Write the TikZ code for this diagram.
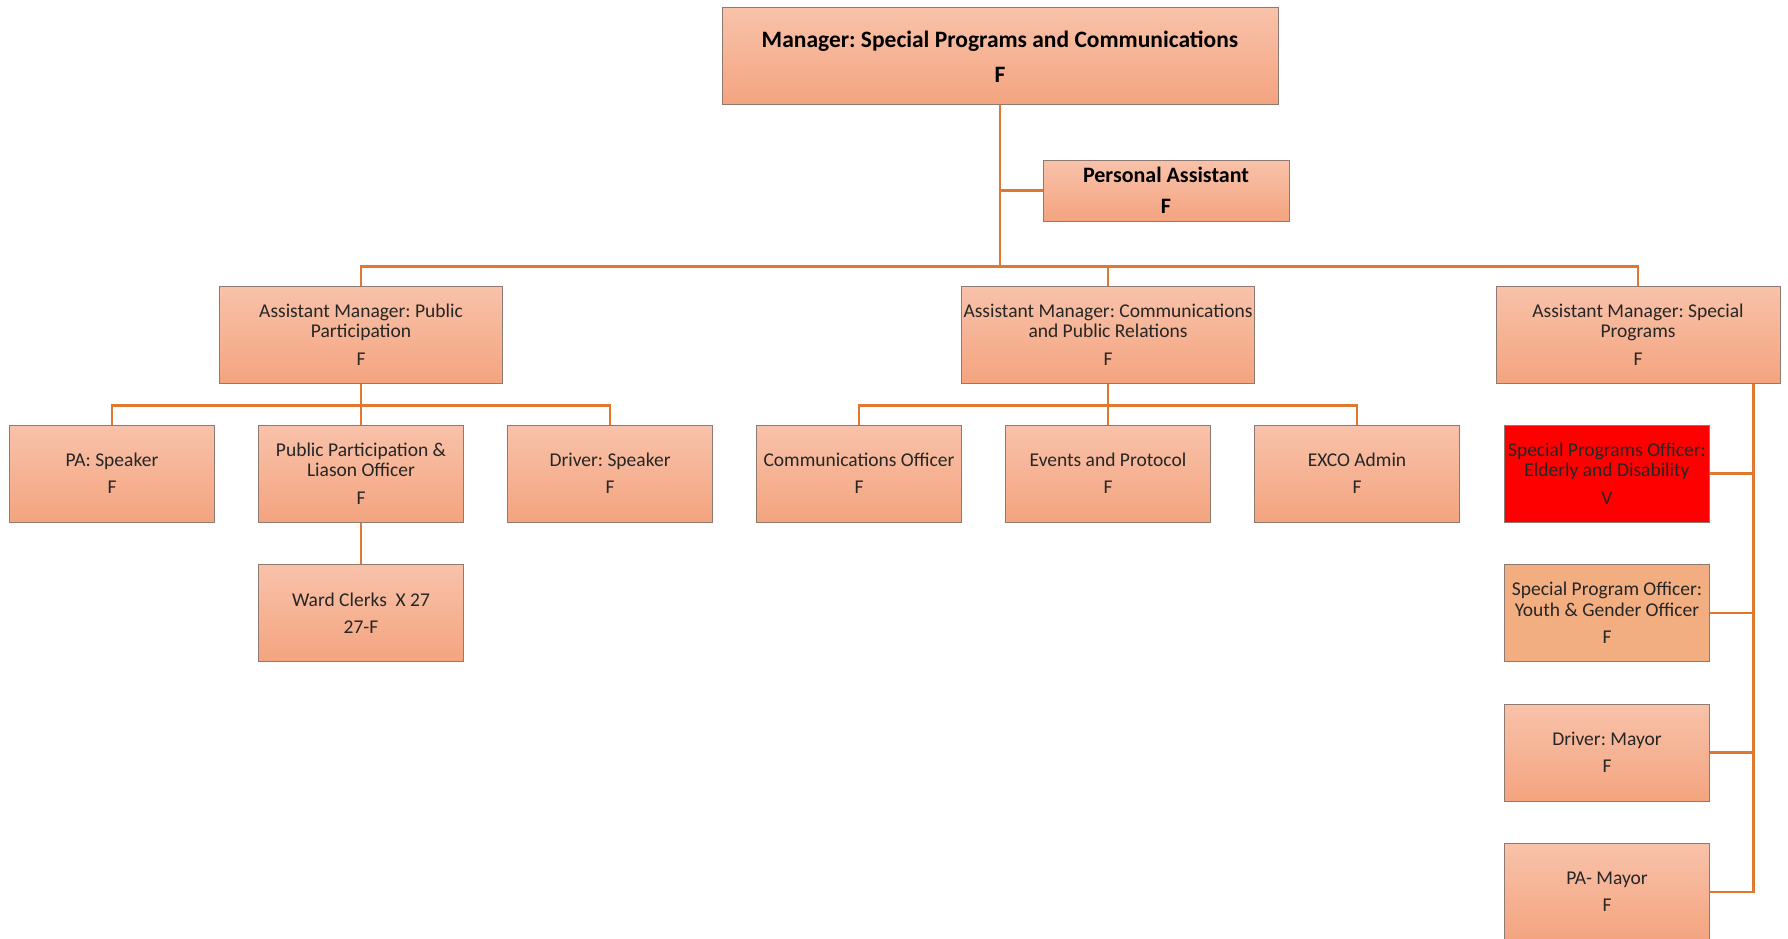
\documentclass[tikz,border=0pt]{standalone}
\usepackage{fontspec}
\setmainfont{Carlito}
\usetikzlibrary{positioning}
\frenchspacing

\definecolor{boxtop}{HTML}{F8C2AA}
\definecolor{boxbot}{HTML}{F4A47F}
\definecolor{boxline}{HTML}{8E7A70}
\definecolor{linkcol}{HTML}{E0782F}
\definecolor{youthfill}{HTML}{F2AE80}
\definecolor{textcol}{HTML}{262626}

\begin{document}
\begin{tikzpicture}[x=1pt,y=-1pt,
  box/.style = {draw=boxline, line width=1pt, align=center, minimum height=97pt, minimum width=205pt, inner sep=2pt, text=textcol, font=\fontsize{19.5}{20.5}\selectfont},
  post/.style = {box, top color=boxtop, bottom color=boxbot},
  head/.style = {post, font=\fontsize{22}{24}\selectfont\bfseries, text=black},
  link/.style = {draw=linkcol, line width=2.6pt},
  node distance={41.5pt and 43pt}]
\useasboundingbox (0,0) rectangle (1788,939);

% top of the chart
\node[head, minimum width=556pt, font=\fontsize{23.5}{25}\selectfont\bfseries] (mgr) at (1000,56.5) {Manager: Special Programs and Communications\\[10pt] F};
\node[head, minimum width=246pt, minimum height=61pt] (pa) at (1166,190.5) {Personal Assistant\\[7pt] F};

% assistant managers
\node[post, minimum width=283pt] (ampp) at (361,334.5) {Assistant Manager: Public\\Participation\\[7pt] F};
\node[post, minimum width=287pt] (amcom) at (1108,334.5) {Assistant Manager: Communications\\and Public Relations\\[7pt] F};
\node[post, minimum width=284pt] (amsp) at (1638,334.5) {Assistant Manager: Special\\Programs\\[7pt] F};

% third row
\node[post] (paspk) at (112,473.5) {PA: Speaker\\[6.5pt] F};
\node[post, right=of paspk] (ppl) {Public Participation \&\\Liason Officer\\[7pt] F};
\node[post, right=of ppl] (drvspk) {Driver: Speaker\\[6.5pt] F};
\node[post, right=of drvspk] (comoff) {Communications Officer\\[6.5pt] F};
\node[post, right=of comoff] (events) {Events and Protocol\\[6.5pt] F};
\node[post, right=of events] (exco) {EXCO Admin\\[6.5pt] F};
\node[post, below=of ppl] (ward) {Ward Clerks~~X 27\\[6.5pt] 27-F};

% special programs column
\node[box, fill=red] (elder) at (1607,473.5) {Special Programs Officer:\\Elderly and Disability\\[7pt] V};
\node[box, fill=youthfill, below=of elder] (youth) {Special Program Officer:\\Youth \& Gender Officer\\[7pt] F};
\node[post, below=of youth] (drvmay) {Driver: Mayor\\[6.5pt] F};
\node[post, below=of drvmay] (pamay) {PA- Mayor\\[6.5pt] F};

% connectors
\coordinate (bus1) at ([yshift=-161pt]mgr.south);
\draw[link] (mgr.south) -- (bus1);
\draw[link] (mgr.south) |- (pa.west);
\draw[link] (ampp.north) |- (bus1) -| (amsp.north);
\draw[link] (bus1) -| (amcom.north);

\coordinate (bus2) at ([yshift=-22pt]ampp.south);
\draw[link] (paspk.north) |- (bus2) -| (drvspk.north);
\draw[link] (ampp.south) -- (ppl.north);
\draw[link] (ppl.south) -- (ward.north);

\coordinate (bus3) at ([yshift=-22pt]amcom.south);
\draw[link] (comoff.north) |- (bus3) -| (exco.north);
\draw[link] (amcom.south) -- (events.north);

\coordinate (rail) at ([xshift=-27pt]amsp.south east);
\draw[link] (rail) |- (pamay.east);
\foreach \n in {elder,youth,drvmay}
  \draw[link] (\n.east) -- (\n.east -| rail);
\end{tikzpicture}
\end{document}
